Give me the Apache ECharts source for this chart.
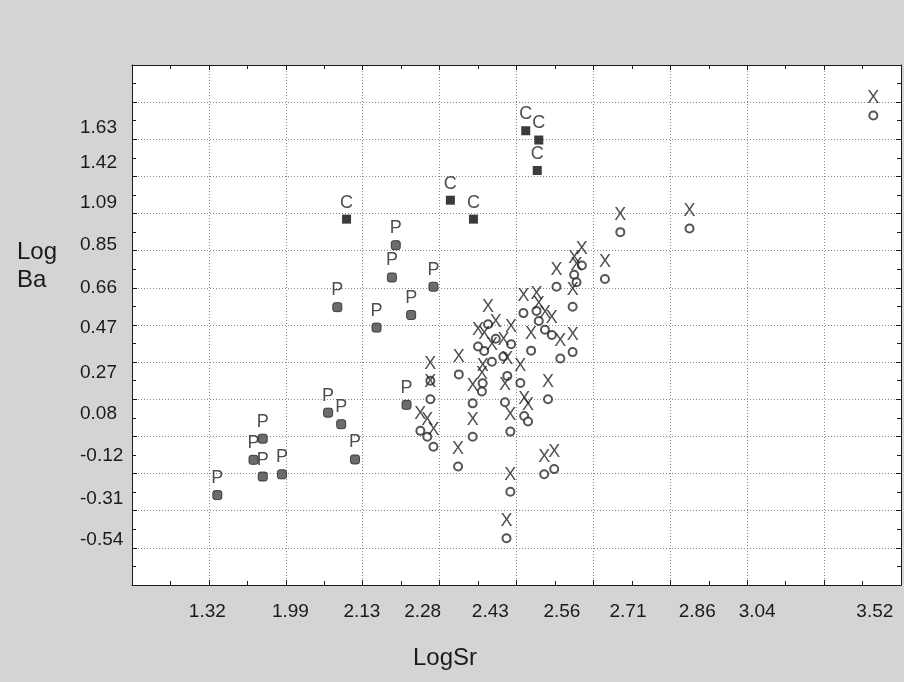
<!DOCTYPE html>
<html>
<head>
<meta charset="utf-8">
<script src="https://cdn.jsdelivr.net/npm/echarts@6/dist/echarts.min.js"></script>
<style>
  html, body { margin: 0; padding: 0; background: #d4d4d4; }
  #main { width: 904px; height: 682px; }
</style>
</head>
<body>
<div id="main"></div>
<script>
// axis positions are in grid cells (x: 10 cells, y: 14 cells), labels sit where the original put them
var xTickLabels = ['1.32', '1.99', '2.13', '2.28', '2.43', '2.56', '2.71', '2.86', '3.04', '3.52'];
var xTickPos = [0.98, 2.06, 2.99, 3.78, 4.66, 5.59, 6.45, 7.35, 8.13, 9.66];
var yTickLabels = ['1.63', '1.42', '1.09', '0.85', '0.66', '0.47', '0.27', '0.08', '-0.12', '-0.31', '-0.54'];
var yTickPos = [12.30, 11.36, 10.29, 9.15, 8.00, 6.92, 5.71, 4.60, 3.47, 2.32, 1.21];

// C group
var cPoints = [
    [2.79, 9.85], [4.14, 10.36], [4.44, 9.85], [5.12, 12.23], [5.29, 11.98], [5.27, 11.16]
];

// P group
var pPoints = [
    [3.43, 9.15], [3.38, 8.28], [3.92, 8.03], [2.67, 7.48], [3.63, 7.27], [3.18, 6.93],
    [3.57, 4.85], [2.55, 4.64], [2.72, 4.33], [2.90, 3.38], [1.70, 3.94], [1.58, 3.37],
    [1.70, 2.92], [1.95, 2.98], [1.11, 2.42]
];

// X group
var xPoints = [
    [9.64, 12.64], [7.25, 9.60], [6.35, 9.50], [6.15, 8.24], [5.85, 8.60], [5.75, 8.35],
    [5.78, 8.15], [5.52, 8.03], [5.73, 7.49], [5.09, 7.32], [5.26, 7.38], [5.29, 7.11],
    [5.37, 6.87], [5.46, 6.73], [5.19, 6.31], [5.57, 6.10], [5.73, 6.27], [5.05, 5.44],
    [5.41, 5.00], [5.10, 4.55], [5.15, 4.40], [4.92, 4.13], [5.36, 2.98], [5.49, 3.12],
    [4.92, 2.51], [4.87, 1.26], [4.85, 4.92], [4.68, 6.01], [4.88, 5.63], [4.56, 5.43],
    [4.55, 5.21], [4.58, 6.30], [4.93, 6.48], [4.73, 6.63], [4.63, 7.02], [4.50, 6.42],
    [4.83, 6.15], [4.43, 4.89], [4.43, 3.99], [4.25, 5.67], [4.24, 3.19], [3.88, 5.50],
    [3.88, 5.00], [3.75, 4.15], [3.84, 3.99], [3.92, 3.72]
];

var dom = document.getElementById('main');
var myChart = echarts.init(dom, null, { renderer: 'canvas' });
var font = "'Liberation Sans', Arial, sans-serif";

function pick(labels, pos, v) {
    var best = 0;
    for (var i = 0; i < pos.length; i++) {
        if (Math.abs(pos[i] - v) < Math.abs(pos[best] - v)) best = i;
    }
    return labels[best];
}

// frame axes: ticks point into the plot (negative length flips them inward)
var frameAxis = {
    type: 'value',
    interval: 1,
    axisLine: { show: true, onZero: false, lineStyle: { color: '#1a1a1a', width: 1 } },
    axisTick: { show: true, inside: false, length: -5, lineStyle: { color: '#1a1a1a' } },
    minorTick: { show: true, splitNumber: 2, length: -4, lineStyle: { color: '#1a1a1a' } },
    axisLabel: { show: false },
    splitLine: { show: false }
};

function labelAxis(pos, labels, extra) {
    return Object.assign({
        type: 'value',
        axisLine: { show: false, onZero: false },
        axisTick: { show: false },
        splitLine: { show: false }
    }, extra);
}

function markLabel(txt) {
    return {
        show: true,
        position: 'top',
        distance: 3,
        formatter: txt,
        color: '#222',
        fontFamily: font,
        fontSize: 18
    };
}

var option = {
    backgroundColor: '#d4d4d4',
    animation: false,
    title: [
        {
            text: 'Log\nBa',
            left: 17,
            top: 238,
            padding: 0,
            textStyle: { color: '#1a1a1a', fontFamily: font, fontSize: 24, fontWeight: 'normal', lineHeight: 28 }
        },
        {
            text: 'LogSr',
            left: 413,
            top: 646,
            padding: 0,
            textStyle: { color: '#1a1a1a', fontFamily: font, fontSize: 24, fontWeight: 'normal' }
        }
    ],
    grid: {
        left: 132, right: 3, top: 65, bottom: 97,
        show: true, backgroundColor: '#fff', borderWidth: 0
    },
    xAxis: [
        Object.assign({}, frameAxis, {
            position: 'bottom', min: 0, max: 10,
            splitLine: { show: true, lineStyle: { color: '#8a8a8a', type: [1, 2], width: 1 } }
        }),
        Object.assign({}, frameAxis, { position: 'top', min: 0, max: 10 }),
        labelAxis(xTickPos, xTickLabels, {
            position: 'bottom', min: 0, max: 10,
            axisLabel: {
                show: true, customValues: xTickPos, color: '#1a1a1a', fontFamily: font, fontSize: 19, margin: 17,
                formatter: function (v) { return pick(xTickLabels, xTickPos, v); }
            }
        })
    ],
    yAxis: [
        Object.assign({}, frameAxis, {
            position: 'left', min: 0, max: 14,
            splitLine: { show: true, lineStyle: { color: '#8a8a8a', type: [1, 2], width: 1 } }
        }),
        Object.assign({}, frameAxis, { position: 'right', min: 0, max: 14 }),
        labelAxis(yTickPos, yTickLabels, {
            position: 'left', min: 0, max: 14,
            axisLabel: {
                show: true, customValues: yTickPos, color: '#1a1a1a', fontFamily: font, fontSize: 19,
                margin: 52, align: 'left',
                formatter: function (v) { return pick(yTickLabels, yTickPos, v); }
            }
        })
    ],
    series: [
        {
            name: 'X',
            type: 'scatter',
            symbol: 'emptyCircle',
            symbolSize: 8,
            itemStyle: { color: '#2a2a2a', borderWidth: 1.7 },
            label: markLabel('X'),
            data: xPoints
        },
        {
            name: 'P',
            type: 'scatter',
            symbol: 'roundRect',
            symbolSize: 9,
            itemStyle: { color: '#474747', borderColor: '#222', borderWidth: 1 },
            label: markLabel('P'),
            data: pPoints
        },
        {
            name: 'C',
            type: 'scatter',
            symbol: 'rect',
            symbolSize: 9,
            itemStyle: { color: '#0a0a0a' },
            label: markLabel('C'),
            data: cPoints
        }
    ]
};

if (option && typeof option === 'object') {
    myChart.setOption(option);
}
</script>
</body>
</html>
